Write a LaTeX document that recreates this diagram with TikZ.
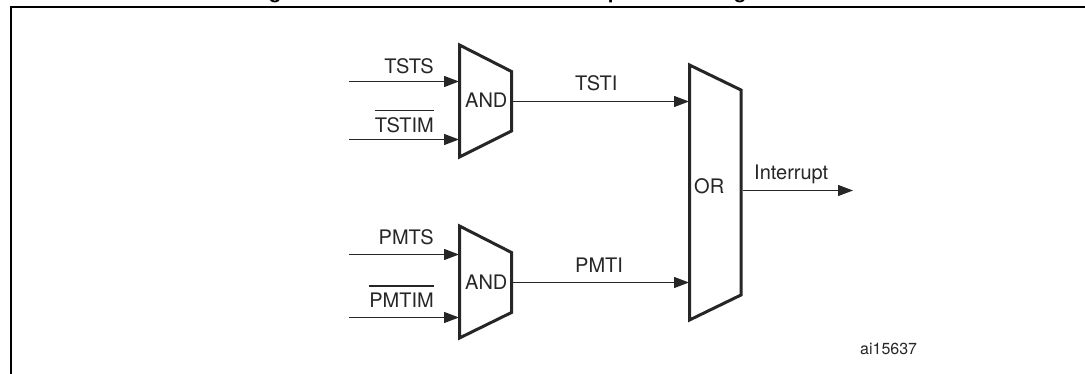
\documentclass[tikz,border=0pt]{standalone}
\usepackage{fontspec}
\setmainfont{TeX Gyre Heros}
\usetikzlibrary{arrows.meta,positioning,calc}
\newcommand{\barred}[1]{\vbox{\hrule height 1.2pt\vskip 6.6pt\hbox{#1}}}
\tikzset{
    gatebox/.style={draw=black!85, line width=3pt, line join=miter},
    signal/.style={draw=black!85, line width=1.3pt, -{Triangle[length=15pt,width=11pt]}},
    sigtext/.style={font=\fontsize{20}{24}\selectfont, inner sep=0pt, text=black!85},
    titlebit/.style={font=\fontsize{20}{24}\selectfont\bfseries, inner sep=0pt, anchor=base west},
}
\begin{document}
\begin{tikzpicture}[x=1pt,y=-1pt]
    \useasboundingbox (0,0) rectangle (1085,374);

    % Caption above the frame, cut off by the page edge
    \node[titlebit] (capa) at (269,-1.4) {g};
    \node[titlebit] (capb) at (608,-1.4) {p};
    \node[titlebit] (capc) at (734,-1.4) {g};

    % Frame, open at the bottom and on the right
    \draw[line width=2.4pt] (11,374) -- (11,7) -- (1085,7);

    % Gates
    \draw[gatebox] (459.5,45) -- (511.5,71.5) -- (511.5,131) -- (459.5,157) -- cycle;
    \draw[gatebox] (459.5,226) -- (511.5,252.5) -- (511.5,312.5) -- (459.5,338) -- cycle;
    \draw[gatebox] (689.5,65) -- (741,90) -- (741,295) -- (689.5,320) -- cycle;

    \node[sigtext, anchor=base west] (andtop) at (465,107.7) {AND};
    \node[sigtext, anchor=base west] (andbot) at (465,289.7) {AND};
    \node[sigtext, anchor=base west] (orgate) at (694,193.5) {OR};

    % Free ends of the inputs
    \coordinate (tstsin) at (349,81.5);
    \coordinate (tstimin) at (349,139.5);
    \coordinate (pmtsin) at (349,254.5);
    \coordinate (pmtimin) at (349,317.5);
    \coordinate (tstsend) at (459,81.5);
    \coordinate (tstimend) at (459,139.5);
    \coordinate (pmtsend) at (459,254.5);
    \coordinate (pmtimend) at (459,317.5);

    \draw[signal] (tstsin) -- (tstsend);
    \draw[signal] (tstimin) -- (tstimend);
    \draw[signal] (pmtsin) -- (pmtsend);
    \draw[signal] (pmtimin) -- (pmtimend);

    % Outputs
    \coordinate (tstiout) at (513,101.5);
    \coordinate (tstiend) at (689,101.5);
    \coordinate (pmtiout) at (513,282.5);
    \coordinate (pmtiend) at (689,282.5);
    \coordinate (irqout) at (743,190.5);
    \coordinate (irqend) at (853,190.5);

    \draw[signal] (tstiout) -- (tstiend);
    \draw[signal] (pmtiout) -- (pmtiend);
    \draw[signal] (irqout) -- (irqend);

    % Labels
    \node[sigtext, anchor=base east] (tsts) at (434,74) {TSTS};
    \node[sigtext, anchor=base east] (tstim) at (434,132.7) {\barred{TSTIM}};
    \node[sigtext, anchor=base east] (pmts) at (434,245) {PMTS};
    \node[sigtext, anchor=base east] (pmtim) at (434,307.7) {\barred{PMTIM}};
    \node[sigtext, anchor=base west] (tsti) at (575,91) {TSTI};
    \node[sigtext, anchor=base west] (pmti) at (575,272.7) {PMTI};
    \node[sigtext, anchor=base west] (irq) at (754,180) {Interrupt};
    \node[sigtext, anchor=base west, font=\fontsize{16}{20}\selectfont] (code) at (860,354) {ai15637};
\end{tikzpicture}
\end{document}
